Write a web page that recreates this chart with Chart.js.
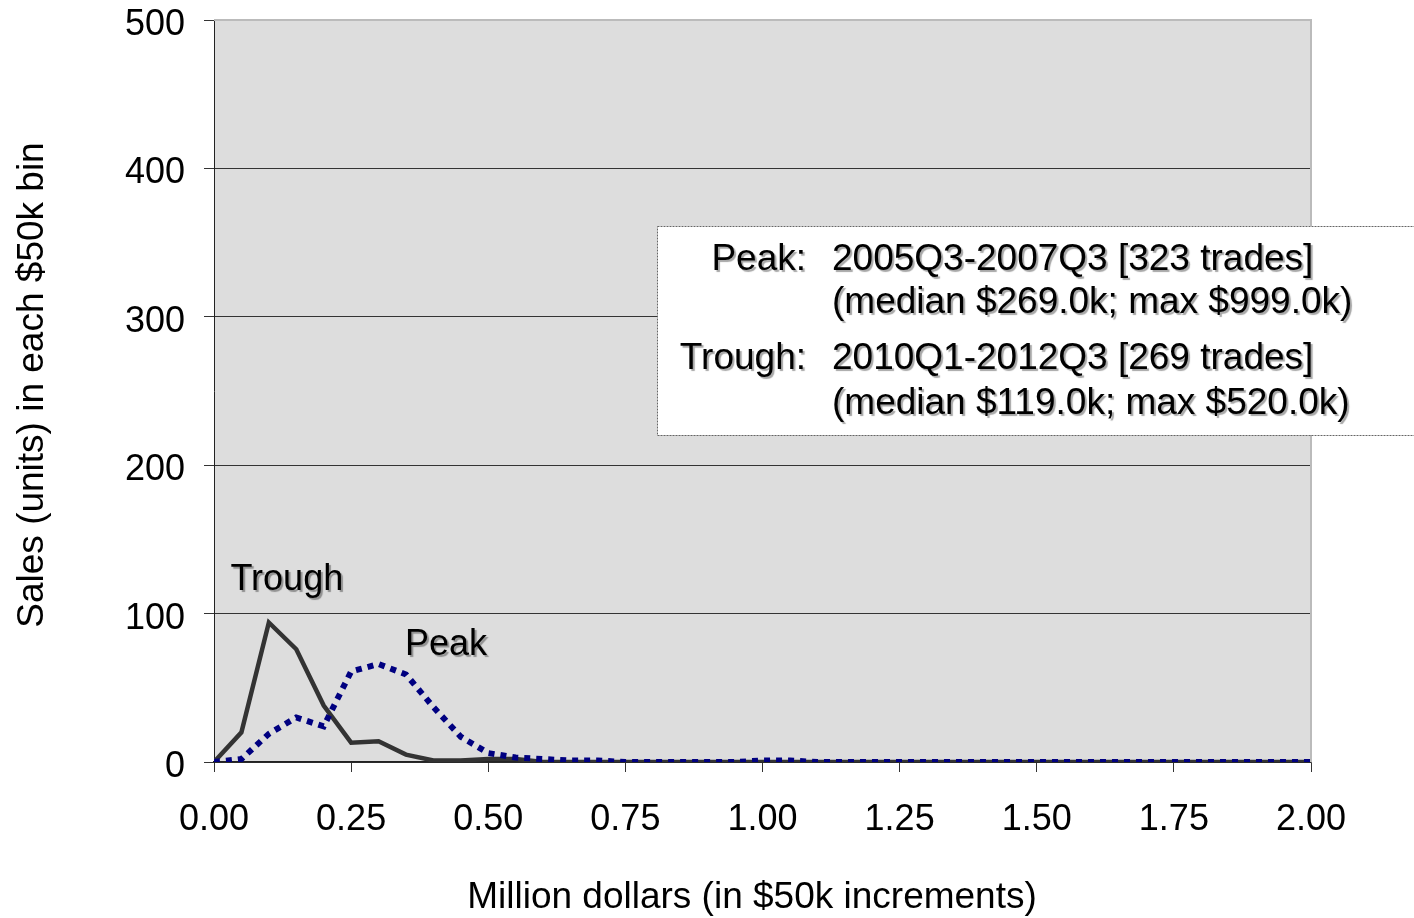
<!DOCTYPE html>
<html>
<head>
<meta charset="utf-8">
<script src="https://cdn.jsdelivr.net/npm/chart.js@4.4.1/dist/chart.umd.min.js"></script>
<style>
  html, body { margin: 0; padding: 0; background: #ffffff; }
  #wrap { width: 1414px; height: 918px; }
</style>
</head>
<body>
<div id="wrap"><canvas id="histChart" width="1414" height="918"></canvas></div>
<script>
// Bin starts in million dollars ($50k steps)
const binX = [0.00, 0.05, 0.10, 0.15, 0.20, 0.25, 0.30, 0.35, 0.40, 0.45,
              0.50, 0.55, 0.60, 0.65, 0.70, 0.75, 0.80, 0.85, 0.90, 0.95,
              1.00, 1.05, 1.10, 1.15, 1.20, 1.25, 1.30, 1.35, 1.40, 1.45,
              1.50, 1.55, 1.60, 1.65, 1.70, 1.75, 1.80, 1.85, 1.90, 1.95, 2.00];

// Sales per bin
const peakSales   = [0, 2, 19, 30, 24, 61, 66, 59, 37, 17,
                     6, 3, 2, 1, 1, 0, 0, 0, 0, 0,
                     1, 1, 0, 0, 0, 0, 0, 0, 0, 0,
                     0, 0, 0, 0, 0, 0, 0, 0, 0, 0, 0];
const troughSales = [0, 20, 94, 76, 38, 13, 14, 5, 1, 1,
                     2, 2, 0, 0, 0, 0, 0, 0, 0, 0,
                     0, 0, 0, 0, 0, 0, 0, 0, 0, 0,
                     0, 0, 0, 0, 0, 0, 0, 0, 0, 0, 0];

const yTicks = [0, 100, 200, 300, 400, 500];
const xTicks = [0, 0.25, 0.5, 0.75, 1, 1.25, 1.5, 1.75, 2];

const seriesLabels = ['Peak', 'Trough'];
const xTitle = 'Million dollars (in $50k increments)';
const yTitle = 'Sales (units) in each $50k bin';
const legendRows = [
    ['Peak:', '2005Q3-2007Q3 [323 trades]'],
    ['', '(median $269.0k; max $999.0k)'],
    ['Trough:', '2010Q1-2012Q3 [269 trades]'],
    ['', '(median $119.0k; max $520.0k)']
];

const FONT = '"Liberation Sans", Arial, sans-serif';

function toPoints(ys) {
    return binX.map((x, i) => ({ x: x, y: ys[i] }));
}

function textShadow(ctx) {
    ctx.shadowColor = 'rgba(0,0,0,0.35)';
    ctx.shadowOffsetX = 2;
    ctx.shadowOffsetY = 2;
    ctx.shadowBlur = 1;
}

// plot background + frame, axis titles, legend box and in-plot labels
const decorations = {
    id: 'decorations',
    beforeDraw(chart) {
        const { ctx, chartArea: a } = chart;
        ctx.save();
        ctx.fillStyle = '#dddddd';
        ctx.fillRect(a.left, a.top, a.right - a.left, a.bottom - a.top);
        ctx.restore();
    },
    afterDatasetsDraw(chart) {
        const { ctx, chartArea: a, scales } = chart;
        ctx.save();
        // light frame on top / right
        ctx.strokeStyle = '#bbbbbb';
        ctx.lineWidth = 2;
        ctx.beginPath();
        ctx.moveTo(a.left, a.top);
        ctx.lineTo(a.right, a.top);
        ctx.lineTo(a.right, a.bottom);
        ctx.stroke();

        // axis titles
        ctx.fillStyle = '#000';
        ctx.font = '37px ' + FONT;
        ctx.textAlign = 'center';
        ctx.textBaseline = 'middle';
        ctx.fillText(xTitle, 752, 898);
        ctx.save();
        ctx.translate(33, 385);
        ctx.rotate(-Math.PI / 2);
        ctx.fillText(yTitle, 0, 0);
        ctx.restore();

        // series labels inside the plot
        textShadow(ctx);
        ctx.font = '36px ' + FONT;
        ctx.textAlign = 'left';
        ctx.fillText(seriesLabels[1], scales.x.getPixelForValue(0.03), scales.y.getPixelForValue(122.5));
        ctx.fillText(seriesLabels[0], scales.x.getPixelForValue(0.348), scales.y.getPixelForValue(79));
        ctx.restore();

        // legend box
        ctx.save();
        ctx.fillStyle = '#ffffff';
        ctx.fillRect(657, 226, 780, 209);
        ctx.strokeStyle = '#666666';
        ctx.lineWidth = 1;
        ctx.setLineDash([2, 1]);
        ctx.strokeRect(657.5, 226.5, 780, 209);
        ctx.setLineDash([]);

        textShadow(ctx);
        ctx.fillStyle = '#000';
        ctx.font = '37px ' + FONT;
        ctx.textBaseline = 'middle';
        const rowY = [260, 303, 359, 404];
        legendRows.forEach((row, i) => {
            if (row[0]) {
                ctx.textAlign = 'right';
                ctx.fillText(row[0], 806, rowY[i]);
            }
            ctx.textAlign = 'left';
            ctx.fillText(row[1], 832, rowY[i]);
        });
        ctx.restore();
    }
};

const ctx = document.getElementById('histChart').getContext('2d');
const histChart = new Chart(ctx, {
    type: 'line',
    data: {
        datasets: [{
            label: seriesLabels[0],
            data: toPoints(peakSales),
            borderColor: '#000080',
            borderWidth: 6,
            borderDash: [6, 6],
            borderCapStyle: 'butt',
            pointRadius: 0,
            tension: 0,
            fill: false
        }, {
            label: seriesLabels[1],
            data: toPoints(troughSales),
            borderColor: '#333333',
            borderWidth: 4.5,
            pointRadius: 0,
            tension: 0,
            fill: false
        }]
    },
    options: {
        responsive: false,
        animation: false,
        layout: { padding: { top: 20, right: 103, left: 0, bottom: 0 } },
        plugins: {
            legend: { display: false },
            tooltip: { enabled: false }
        },
        scales: {
            x: {
                type: 'linear',
                min: 0,
                max: 2,
                afterBuildTicks: (scale) => { scale.ticks = xTicks.map(v => ({ value: v })); },
                afterFit: (scale) => { scale.height = 156; },
                ticks: {
                    color: '#000',
                    font: { family: FONT, size: 36 },
                    padding: 26,
                    maxRotation: 0,
                    callback: (v) => Number(v).toFixed(2)
                },
                grid: {
                    drawOnChartArea: false,
                    tickLength: 10,
                    tickColor: '#333'
                },
                border: { color: '#222', width: 1.5 }
            },
            y: {
                min: 0,
                max: 500,
                afterBuildTicks: (scale) => { scale.ticks = yTicks.map(v => ({ value: v })); },
                afterFit: (scale) => {
                    scale.width = 214;
                    scale.paddingTop = 0;
                    scale.paddingBottom = 0;
                },
                ticks: {
                    color: '#000',
                    font: { family: FONT, size: 36 },
                    padding: 19,
                    labelOffset: 5
                },
                grid: {
                    color: (c) => (c.tick && c.tick.value === 500) ? 'rgba(0,0,0,0)' : '#333',
                    lineWidth: 1,
                    tickLength: 10,
                    tickColor: '#333'
                },
                border: { color: '#222', width: 1 }
            }
        }
    },
    plugins: [decorations]
});
</script>
</body>
</html>
